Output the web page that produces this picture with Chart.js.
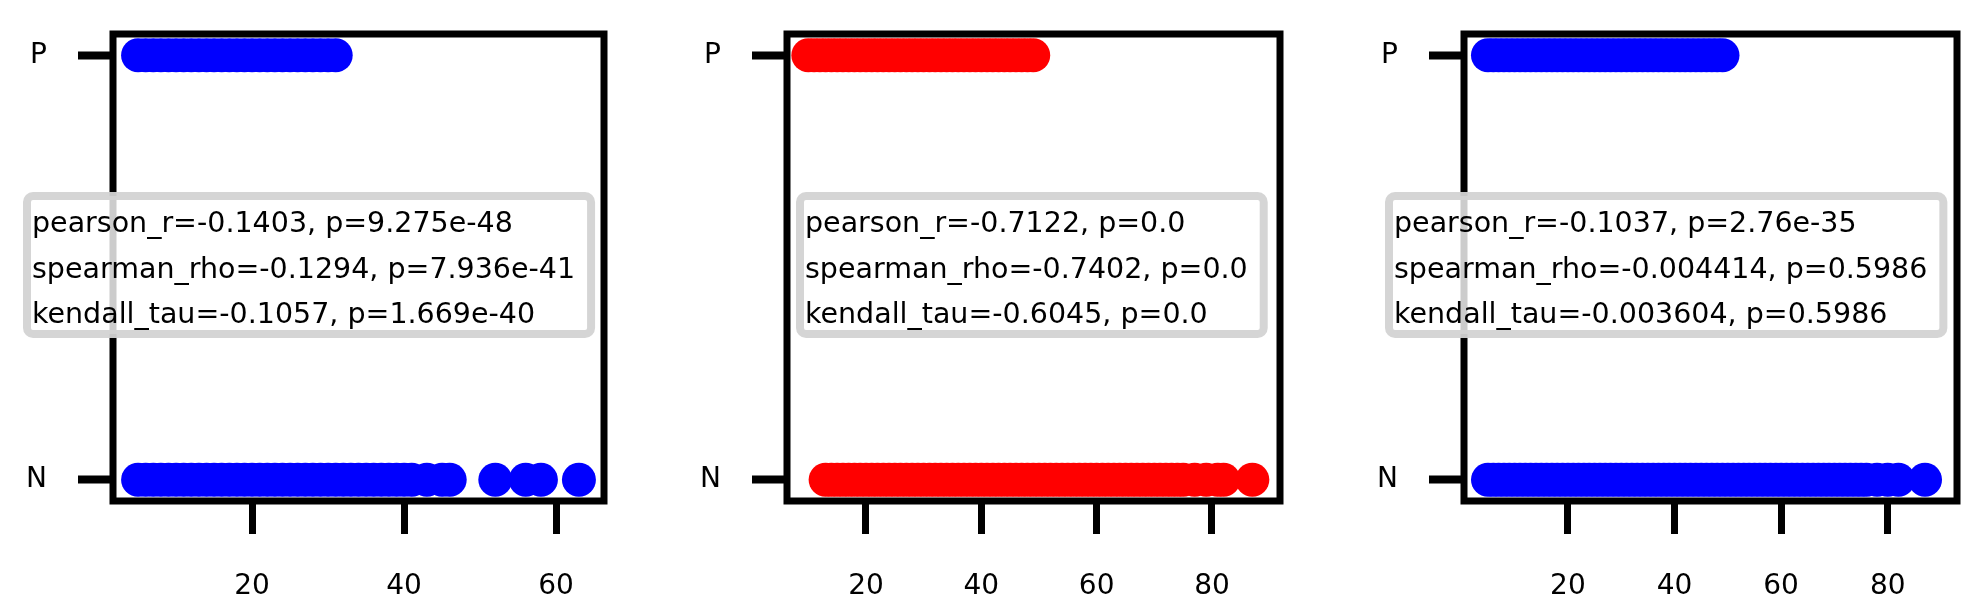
<!DOCTYPE html>
<html>
<head>
<meta charset="utf-8">
<script src="https://cdn.jsdelivr.net/npm/chart.js@4.4.0/dist/chart.umd.min.js"></script>
<style>
  html, body { margin: 0; padding: 0; background: #fff; }
  #wrap { position: relative; width: 1974px; height: 600px; }
  canvas { position: absolute; top: 0; }
</style>
</head>
<body>
<div id="wrap">
  <canvas id="c1"></canvas>
  <canvas id="c2"></canvas>
  <canvas id="c3"></canvas>
</div>
<script>
// values: x position of each dot in the P row and the N row
const panel1P = [5, 6, 7, 8, 9, 10, 11, 12, 13, 14, 15, 16, 17, 18, 19, 20, 21, 22, 23, 24, 25, 26, 27, 28, 29, 30, 31];
const panel1N = [5, 6, 7, 8, 9, 10, 11, 12, 13, 14, 15, 16, 17, 18, 19, 20, 21, 22, 23, 24, 25, 26, 27, 28, 29, 30,
  31, 32, 33, 34, 35, 36, 37, 38, 39, 40, 41, 43, 45, 46, 52, 56, 58, 63];

const panel2P = [10, 11, 12, 13, 14, 15, 16, 17, 18, 19, 20, 21, 22, 23, 24, 25, 26, 27, 28, 29, 30, 31, 32, 33, 34,
  35, 36, 37, 38, 39, 40, 41, 42, 43, 44, 45, 46, 47, 48, 49];
const panel2N = [13, 14, 15, 16, 17, 18, 19, 20, 21, 22, 23, 24, 25, 26, 27, 28, 29, 30, 31, 32, 33, 34, 35, 36, 37,
  38, 39, 40, 41, 42, 43, 44, 45, 46, 47, 48, 49, 50, 51, 52, 53, 54, 55, 56, 57, 58, 59, 60, 61, 62, 63, 64, 65,
  66, 67, 68, 69, 70, 71, 72, 73, 74, 75, 77, 79, 81, 82, 87];

const panel3P = [5, 6, 7, 8, 9, 10, 11, 12, 13, 14, 15, 16, 17, 18, 19, 20, 21, 22, 23, 24, 25, 26, 27, 28, 29, 30,
  31, 32, 33, 34, 35, 36, 37, 38, 39, 40, 41, 42, 43, 44, 45, 46, 47, 48, 49];
const panel3N = [5, 6, 7, 8, 9, 10, 11, 12, 13, 14, 15, 16, 17, 18, 19, 20, 21, 22, 23, 24, 25, 26, 27, 28, 29, 30,
  31, 32, 33, 34, 35, 36, 37, 38, 39, 40, 41, 42, 43, 44, 45, 46, 47, 48, 49, 50, 51, 52, 53, 54, 55, 56, 57, 58,
  59, 60, 61, 62, 63, 64, 65, 66, 67, 68, 69, 70, 71, 72, 73, 74, 75, 76, 78, 80, 82, 87];

const yLabels = ["N", "P"];
const xTicks1 = [20, 40, 60];
const xTicks2 = [20, 40, 60, 80];
const xTicks3 = [20, 40, 60, 80];

const stats1 = ["pearson_r=-0.1403, p=9.275e-48", "spearman_rho=-0.1294, p=7.936e-41", "kendall_tau=-0.1057, p=1.669e-40"];
const stats2 = ["pearson_r=-0.7122, p=0.0", "spearman_rho=-0.7402, p=0.0", "kendall_tau=-0.6045, p=0.0"];
const stats3 = ["pearson_r=-0.1037, p=2.76e-35", "spearman_rho=-0.004414, p=0.5986", "kendall_tau=-0.003604, p=0.5986"];

const FONT = "'DejaVu Sans', sans-serif";
const FONT_SIZE = 28;

// page coordinates of each panel (canvas + plot box)
const panels = [
  { id: "c1", left: 0, width: 680, areaLeft: 113, areaRight: 604, xMin: 1.7, xMax: 66.3,
    ticks: xTicks1, p: panel1P, n: panel1N, color: "#0000ff", stats: stats1, boxX: 23 },
  { id: "c2", left: 680, width: 640, areaLeft: 787, areaRight: 1280, xMin: 6.3, xMax: 91.8,
    ticks: xTicks2, p: panel2P, n: panel2N, color: "#ff0000", stats: stats2, boxX: 796 },
  { id: "c3", left: 1320, width: 654, areaLeft: 1464, areaRight: 1962, xMin: 0.5, xMax: 93,
    ticks: xTicks3, p: panel3P, n: panel3N, color: "#0000ff", stats: stats3, boxX: 1385 },
];

const AREA_TOP = 34;
const AREA_BOTTOM = 501;

// black frame round the plot area
const framePlugin = {
  id: "frame",
  afterDatasetsDraw(chart) {
    const { ctx, chartArea } = chart;
    ctx.save();
    ctx.strokeStyle = "#000";
    ctx.lineWidth = 7;
    ctx.strokeRect(chartArea.left, chartArea.top, chartArea.right - chartArea.left, chartArea.bottom - chartArea.top);
    ctx.restore();
  },
};

// grey rounded box with the correlation text
const statsPlugin = {
  id: "statsBox",
  afterDraw(chart, args, opts) {
    const ctx = chart.ctx;
    ctx.save();
    ctx.font = "28.5px " + FONT;
    const w = Math.max(...opts.lines.map((l) => ctx.measureText(l).width)) + 29;
    const x = opts.x, y = opts.y, h = 146;
    ctx.beginPath();
    ctx.roundRect(x + 4, y + 4, w - 8, h - 8, 6);
    ctx.fillStyle = "rgba(255,255,255,0.8)";
    ctx.fill();
    ctx.lineWidth = 8;
    ctx.strokeStyle = "rgba(211,211,211,0.95)";
    ctx.stroke();
    ctx.fillStyle = "#000";
    ctx.textBaseline = "alphabetic";
    opts.lines.forEach((line, i) => {
      ctx.fillText(line, x + 9, y + 40 + i * 45.5);
    });
    ctx.restore();
  },
};

panels.forEach((pn) => {
  const canvas = document.getElementById(pn.id);
  canvas.width = pn.width;
  canvas.height = 600;
  canvas.style.left = pn.left + "px";

  new Chart(canvas, {
    type: "scatter",
    data: {
      datasets: [
        { data: pn.p.map((v) => ({ x: v, y: 1 })), backgroundColor: pn.color, borderColor: pn.color },
        { data: pn.n.map((v) => ({ x: v, y: 0 })), backgroundColor: pn.color, borderColor: pn.color },
      ],
    },
    options: {
      responsive: false,
      animation: false,
      devicePixelRatio: 1,
      layout: { padding: { top: AREA_TOP, right: pn.left + pn.width - pn.areaRight, left: 0, bottom: 0 } },
      elements: { point: { radius: 17, hoverRadius: 17, borderWidth: 0 } },
      plugins: {
        legend: { display: false },
        tooltip: { enabled: false },
        statsBox: { lines: pn.stats, x: pn.boxX - pn.left, y: 192 },
      },
      scales: {
        x: {
          type: "linear",
          min: pn.xMin,
          max: pn.xMax,
          afterBuildTicks: (s) => { s.ticks = pn.ticks.map((v) => ({ value: v })); },
          afterFit: (s) => { s.height = 600 - AREA_BOTTOM; s.paddingLeft = 0; s.paddingRight = 0; },
          border: { display: false },
          grid: { drawOnChartArea: false, drawTicks: true, tickLength: 33, tickWidth: 7, tickColor: "#000" },
          ticks: { color: "#000", font: { family: FONT, size: FONT_SIZE }, padding: 36, maxRotation: 0 },
        },
        y: {
          type: "linear",
          min: -0.05,
          max: 1.05,
          afterBuildTicks: (s) => { s.ticks = yLabels.map((l, i) => ({ value: i })); },
          afterFit: (s) => { s.width = pn.areaLeft - pn.left; s.paddingTop = 0; s.paddingBottom = 0; },
          border: { display: false },
          grid: { drawOnChartArea: false, drawTicks: true, tickLength: 35, tickWidth: 8, tickColor: "#000" },
          ticks: { color: "#000", font: { family: FONT, size: FONT_SIZE }, padding: 31, callback: (v) => yLabels[v] },
        },
      },
    },
    plugins: [framePlugin, statsPlugin],
  });
});
</script>
</body>
</html>
